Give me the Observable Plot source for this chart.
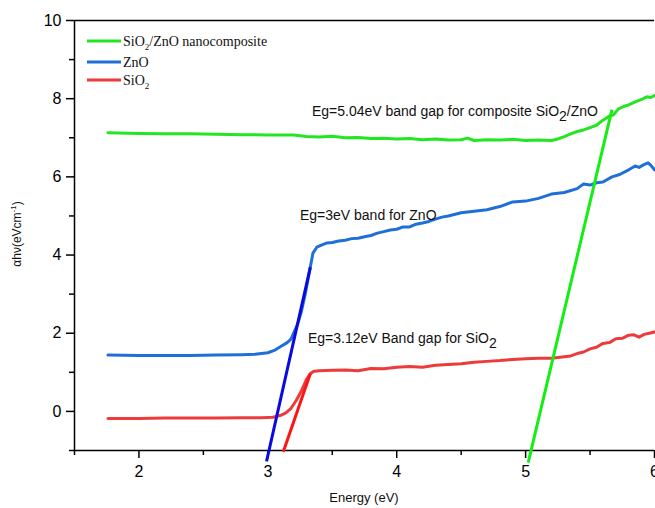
<!DOCTYPE html>
<html>
<head>
<meta charset="utf-8">
<script src="https://cdn.jsdelivr.net/npm/d3@7"></script>
<script src="https://cdn.jsdelivr.net/npm/@observablehq/plot@0.6"></script>
<style>
  html, body { margin: 0; padding: 0; background: #fff; overflow: hidden; }
  #chart { width: 655px; height: 508px; overflow: hidden; }
</style>
</head>
<body>
<div id="chart"></div>
<script>
// ---------- data ----------
const compositeE = [1.76, 2.0, 2.2, 2.4, 2.6, 2.8, 3.0, 3.2, 3.3, 3.4, 3.5, 3.6, 3.7, 3.8, 3.9, 4.0, 4.1, 4.2, 4.3, 4.4, 4.5, 4.55, 4.6, 4.7, 4.8, 4.9, 5.0, 5.1, 5.2, 5.25, 5.3, 5.35, 5.4, 5.45, 5.5, 5.55, 5.6, 5.65, 5.68, 5.72, 5.76, 5.8, 5.85, 5.9, 5.94, 5.97, 6.0];
const compositeAbs = [7.13, 7.11, 7.1, 7.1, 7.09, 7.08, 7.07, 7.07, 7.03, 7.02, 7.04, 7.0, 7.01, 6.98, 6.99, 6.97, 6.98, 6.95, 6.97, 6.94, 6.95, 6.99, 6.93, 6.95, 6.94, 6.96, 6.93, 6.94, 6.93, 6.97, 7.03, 7.1, 7.16, 7.2, 7.26, 7.32, 7.45, 7.56, 7.58, 7.74, 7.8, 7.84, 7.92, 7.98, 8.05, 8.03, 8.08];

const znoE = [1.76, 2.0, 2.2, 2.4, 2.6, 2.8, 2.9, 3.0, 3.05, 3.1, 3.15, 3.18, 3.2, 3.23, 3.26, 3.29, 3.31, 3.33, 3.35, 3.38, 3.42, 3.46, 3.5, 3.55, 3.6, 3.65, 3.7, 3.75, 3.8, 3.85, 3.9, 3.95, 4.0, 4.05, 4.1, 4.15, 4.2, 4.25, 4.3, 4.35, 4.4, 4.5, 4.6, 4.7, 4.8, 4.9, 5.0, 5.1, 5.2, 5.3, 5.4, 5.45, 5.5, 5.55, 5.6, 5.67, 5.73, 5.8, 5.85, 5.88, 5.91, 5.95, 5.97, 6.0];
const znoAbs = [1.44, 1.43, 1.43, 1.43, 1.44, 1.45, 1.46, 1.5, 1.56, 1.66, 1.76, 1.85, 2.0, 2.22, 2.55, 3.0, 3.35, 3.7, 4.05, 4.2, 4.26, 4.31, 4.32, 4.36, 4.38, 4.42, 4.43, 4.47, 4.5, 4.56, 4.6, 4.64, 4.66, 4.72, 4.72, 4.79, 4.82, 4.86, 4.92, 4.97, 5.0, 5.08, 5.12, 5.16, 5.24, 5.36, 5.38, 5.45, 5.56, 5.6, 5.7, 5.82, 5.79, 5.85, 5.87, 6.0, 6.06, 6.18, 6.28, 6.24, 6.3, 6.36, 6.3, 6.18];

const sio2E = [1.76, 2.0, 2.2, 2.4, 2.6, 2.8, 2.95, 3.04, 3.1, 3.14, 3.18, 3.22, 3.26, 3.3, 3.33, 3.36, 3.4, 3.5, 3.6, 3.7, 3.8, 3.9, 4.0, 4.1, 4.2, 4.3, 4.4, 4.5, 4.6, 4.7, 4.8, 4.9, 5.0, 5.1, 5.2, 5.3, 5.35, 5.4, 5.45, 5.5, 5.55, 5.6, 5.65, 5.7, 5.75, 5.8, 5.84, 5.88, 5.92, 5.96, 6.0];
const sio2Abs = [-0.18, -0.18, -0.17, -0.17, -0.17, -0.16, -0.16, -0.15, -0.1, -0.04, 0.08, 0.28, 0.52, 0.82, 0.97, 1.03, 1.04, 1.05, 1.06, 1.04, 1.1, 1.09, 1.13, 1.15, 1.13, 1.18, 1.2, 1.22, 1.26, 1.28, 1.3, 1.33, 1.35, 1.36, 1.36, 1.4, 1.42, 1.48, 1.52, 1.6, 1.64, 1.74, 1.76, 1.86, 1.87, 1.95, 1.96, 1.9, 1.97, 2.0, 2.03];

// tangent (Tauc) lines: [x1, y1, x2, y2] in data units
const tangentNames = ["ZnO", "SiO2", "composite"];
const tangentX1 = [2.99, 3.12, 5.02];
const tangentY1 = [-1.28, -1.03, -1.31];
const tangentX2 = [3.33, 3.33, 5.67];
const tangentY2 = [3.69, 0.97, 7.72];

const xMajorTicks = [2, 3, 4, 5, 6];
const xMinorTicks = [1.5, 2.5, 3.5, 4.5, 5.5];
const yMajorTicks = [0, 2, 4, 6, 8, 10];
const yMinorTicks = [-1, 1, 3, 5, 7, 9];

const legendLead = ["SiO", "ZnO", "SiO"];
const legendSub = ["2", "", "2"];
const legendTail = ["/ZnO nanocomposite", "", ""];

const annotationLead = ["Eg=5.04eV band gap for composite SiO", "Eg=3eV band for ZnO", "Eg=3.12eV Band gap for SiO"];
const annotationSub = ["2", "", "2"];
const annotationTail = ["/ZnO", "", ""];
const annotationE = [3.346, 3.253, 3.315];
const annotationV = [7.54, 4.88, 1.74];

// ---------- styles ----------
const colors = { composite: "#22e622", zno: "#1f6fd8", sio2: "#ec3b3b" };
const tangentColors = ["#0a0ae0", "#ff1414", "#14ee14"];
const legendColors = [colors.composite, colors.zno, colors.sio2];

const toRows = (xs, ys) => xs.map((x, i) => ({x, y: ys[i]}));
const tangents = tangentNames.map((n, i) => ({n, x1: tangentX1[i], y1: tangentY1[i], x2: tangentX2[i], y2: tangentY2[i], c: tangentColors[i]}));

const plot = Plot.plot({
  width: 655,
  height: 508,
  marginLeft: 74,
  marginRight: 1,
  marginTop: 20,
  marginBottom: 58,
  x: {domain: [1.5, 6.0], label: null},
  y: {domain: [-1, 10], label: null},
  style: {fontFamily: "'Liberation Sans', Arial, sans-serif", fontSize: "16px", background: "white", overflow: "visible", color: "#000"},
  marks: [
    Plot.axisX(xMajorTicks, {tickSize: 8, tickPadding: 7, fontSize: 16, strokeWidth: 1.5, tickFormat: d => String(d), label: null}),
    Plot.axisX(xMinorTicks, {tickSize: 5, strokeWidth: 1.5, tickFormat: () => "", label: null}),
    Plot.axisY(yMajorTicks, {tickSize: 8, tickPadding: 5, fontSize: 16, strokeWidth: 1.5, tickFormat: d => String(d), label: null}),
    Plot.axisY(yMinorTicks, {tickSize: 5, strokeWidth: 1.5, tickFormat: () => "", label: null}),
    Plot.ruleX([1.5], {stroke: "#000", strokeWidth: 1.5}),
    Plot.ruleY([-1], {stroke: "#000", strokeWidth: 1.5}),
    Plot.ruleY([10], {stroke: "#000", strokeWidth: 1.5}),
    Plot.line(toRows(compositeE, compositeAbs), {x: "x", y: "y", stroke: colors.composite, strokeWidth: 3, strokeLinejoin: "round"}),
    Plot.line(toRows(znoE, znoAbs), {x: "x", y: "y", stroke: colors.zno, strokeWidth: 3, strokeLinejoin: "round"}),
    Plot.line(toRows(sio2E, sio2Abs), {x: "x", y: "y", stroke: colors.sio2, strokeWidth: 3, strokeLinejoin: "round"}),
    Plot.link(tangents, {x1: "x1", y1: "y1", x2: "x2", y2: "y2", stroke: d => d.c, strokeWidth: 3})
  ]
});

const sx = plot.scale("x"), sy = plot.scale("y");
const svg = d3.select(plot);

// annotations
annotationLead.forEach((lead, i) => {
  const t = svg.append("text")
    .attr("x", sx.apply(annotationE[i]))
    .attr("y", sy.apply(annotationV[i]))
    .attr("text-anchor", "start")
    .attr("font-family", "'Liberation Sans', Arial, sans-serif")
    .attr("font-size", 14)
    .attr("fill", "#111");
  t.append("tspan").text(lead);
  if (annotationSub[i]) {
    t.append("tspan").attr("dy", 5).attr("font-size", 14).text(annotationSub[i]);
    t.append("tspan").attr("dy", -5).text(annotationTail[i]);
  }
});

// legend
const legY = [41, 62, 80];
legendLead.forEach((lead, i) => {
  svg.append("line")
    .attr("x1", 87).attr("x2", 121)
    .attr("y1", legY[i]).attr("y2", legY[i])
    .attr("stroke", legendColors[i]).attr("stroke-width", 3);
  const t = svg.append("text")
    .attr("x", 123).attr("y", legY[i] + 5)
    .attr("text-anchor", "start")
    .attr("font-family", "'Liberation Serif', 'Times New Roman', serif")
    .attr("font-size", 14).attr("fill", "#111");
  t.append("tspan").text(lead);
  if (legendSub[i]) {
    t.append("tspan").attr("dy", 4).attr("font-size", 9).text(legendSub[i]);
    t.append("tspan").attr("dy", -4).text(legendTail[i]);
  }
});

// axis titles
svg.append("text")
  .attr("x", 364).attr("y", 502)
  .attr("text-anchor", "middle")
  .attr("font-family", "'Liberation Sans', Arial, sans-serif")
  .attr("font-size", 13).attr("fill", "#111")
  .text("Energy (eV)");

const yl = svg.append("text")
  .attr("transform", "translate(21,234) rotate(-90)")
  .attr("text-anchor", "middle")
  .attr("font-family", "'Liberation Sans', Arial, sans-serif")
  .attr("font-size", 12).attr("fill", "#111");
yl.append("tspan").text("\u03B1h\u03BD(eVcm");
yl.append("tspan").attr("dy", -5).attr("font-size", 8).text("-1");
yl.append("tspan").attr("dy", 5).text(")");

document.getElementById("chart").appendChild(plot);
</script>
</body>
</html>
